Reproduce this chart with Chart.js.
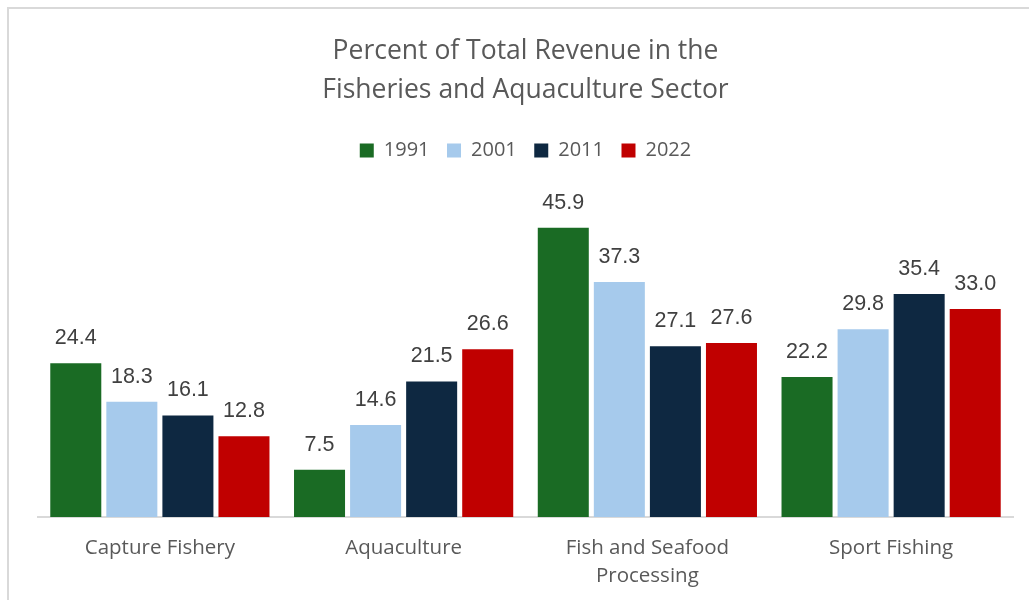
<!DOCTYPE html>
<html>
<head>
<meta charset="utf-8">
<script src="https://cdn.jsdelivr.net/npm/chart.js@4/dist/chart.umd.min.js"></script>
<style>
  html, body { margin: 0; padding: 0; background: #fff; }
  .wrap { position: relative; width: 1029px; height: 600px; overflow: hidden; }
  .frame {
    position: absolute; left: 7px; top: 7px; width: 1100px; height: 700px;
    border-left: 2px solid #d9d9d9; border-top: 2px solid #d9d9d9;
  }
  canvas { position: absolute; left: 0; top: 0; }
</style>
</head>
<body>
<div class="wrap">
  <div class="frame"></div>
  <canvas id="revenueChart" width="1029" height="600"></canvas>
</div>
<script>
const categories = [
  'Capture Fishery',
  'Aquaculture',
  ['Fish and Seafood', 'Processing'],
  'Sport Fishing',
];
const years = ['1991', '2001', '2011', '2022'];
const share1991 = [24.4, 7.5, 45.9, 22.2];
const share2001 = [18.3, 14.6, 37.3, 29.8];
const share2011 = [16.1, 21.5, 27.1, 35.4];
const share2022 = [12.8, 26.6, 27.6, 33.0];

const COLORS = ['#1a6b24', '#a6caec', '#0e2841', '#c00000'];
const TEXT = '#595959';
const FONT = "'Open Sans', sans-serif";

// value labels above each bar
const valueLabels = {
  id: 'valueLabels',
  afterDatasetsDraw(chart) {
    const { ctx } = chart;
    ctx.save();
    ctx.font = "21.5px 'Liberation Sans', Arial, sans-serif";
    ctx.fillStyle = '#404040';
    ctx.textAlign = 'center';
    ctx.textBaseline = 'middle';
    chart.data.datasets.forEach((ds, i) => {
      chart.getDatasetMeta(i).data.forEach((bar, j) => {
        ctx.fillText(ds.data[j].toFixed(1), bar.x, bar.y - 25);
      });
    });
    ctx.restore();
  },
};

const seriesData = [share1991, share2001, share2011, share2022];

new Chart(document.getElementById('revenueChart').getContext('2d'), {
  type: 'bar',
  data: {
    labels: categories,
    datasets: years.map((y, i) => ({
      label: y,
      data: seriesData[i],
      backgroundColor: COLORS[i],
      categoryPercentage: 0.92,
      barPercentage: 0.91,
    })),
  },
  options: {
    responsive: false,
    animation: false,
    devicePixelRatio: 1,
    layout: { padding: { left: 38, right: 16, top: 0, bottom: -7 } },
    plugins: {
      title: {
        display: true,
        text: ['Percent of Total Revenue in the', 'Fisheries and Aquaculture Sector'],
        color: TEXT,
        font: { family: FONT, size: 26.5, weight: 'normal', lineHeight: 1.47 },
        padding: { top: 32, bottom: 13 },
      },
      legend: {
        labels: {
          color: TEXT,
          font: { family: FONT, size: 20 },
          boxWidth: 14,
          boxHeight: 14,
          padding: 17.5,
        },
      },
      tooltip: { enabled: false },
    },
    scales: {
      x: {
        grid: { display: false, drawTicks: false },
        border: { display: true, color: '#d9d9d9', width: 2 },
        ticks: {
          color: TEXT,
          padding: 17,
          maxRotation: 0,
          font: { family: FONT, size: 20.5, lineHeight: 1.366 },
        },
      },
      y: {
        display: false,
        min: 0,
        max: 55,
      },
    },
  },
  plugins: [valueLabels],
});
</script>
</body>
</html>
